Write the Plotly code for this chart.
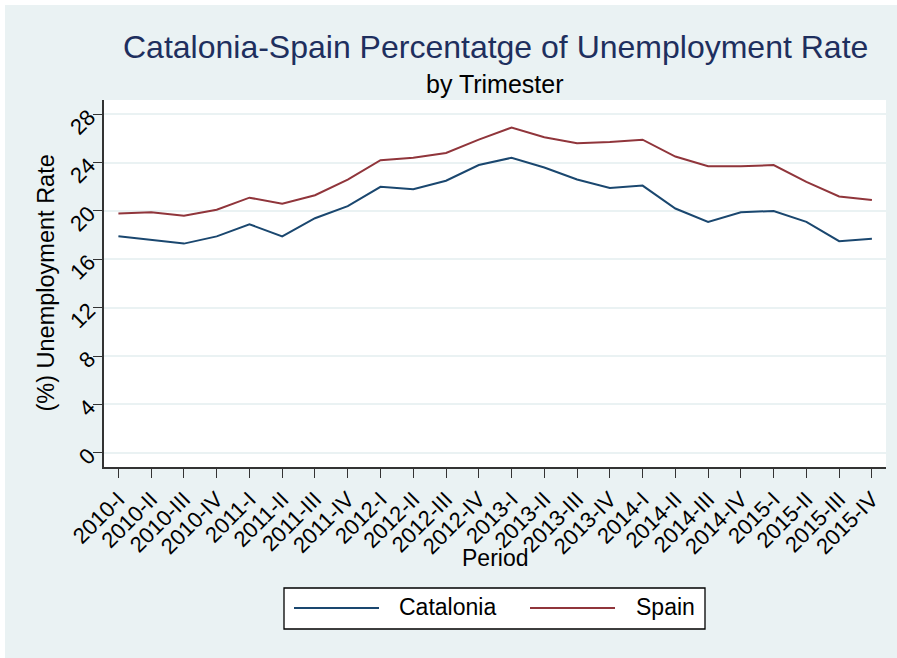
import plotly.graph_objects as go

periods = ["2010-I", "2010-II", "2010-III", "2010-IV",
           "2011-I", "2011-II", "2011-III", "2011-IV",
           "2012-I", "2012-II", "2012-III", "2012-IV",
           "2013-I", "2013-II", "2013-III", "2013-IV",
           "2014-I", "2014-II", "2014-III", "2014-IV",
           "2015-I", "2015-II", "2015-III", "2015-IV"]

catalonia = [17.9, 17.6, 17.3, 17.9, 18.9, 17.9, 19.4, 20.4,
             22.0, 21.8, 22.5, 23.8, 24.4, 23.6, 22.6, 21.9,
             22.1, 20.2, 19.1, 19.9, 20.0, 19.1, 17.5, 17.7]

spain = [19.8, 19.9, 19.6, 20.1, 21.1, 20.6, 21.3, 22.6,
         24.2, 24.4, 24.8, 25.9, 26.9, 26.1, 25.6, 25.7,
         25.9, 24.5, 23.7, 23.7, 23.8, 22.4, 21.2, 20.9]

y_ticks = [0, 4, 8, 12, 16, 20, 24, 28]

W, H = 897, 658
L, R, T, B = 104, 886, 100, 467   # plot-area pixel box

def px(x):
    return (x - L) / (R - L)

def py(y):
    return (B - y) / (B - T)

NAVY = "#1a476f"
MAROON = "#90353b"
BG = "#eaf2f3"
FONT = "Liberation Sans, Arial, sans-serif"

fig = go.Figure()
fig.add_trace(go.Scatter(x=periods, y=catalonia, mode="lines", name="Catalonia",
                         line=dict(color=NAVY, width=2), showlegend=False))
fig.add_trace(go.Scatter(x=periods, y=spain, mode="lines", name="Spain",
                         line=dict(color=MAROON, width=2), showlegend=False))

fig.update_layout(
    width=W, height=H,
    margin=dict(l=L, r=W - R, t=T, b=H - B, pad=0),
    paper_bgcolor=BG,
    plot_bgcolor="white",
    font=dict(family=FONT, color="black", size=22),
    showlegend=False,
)

fig.update_xaxes(
    type="category", range=[-0.44, 23.43],
    showgrid=False, zeroline=False,
    showline=True, linecolor="#333333", linewidth=1.5,
    ticks="outside", ticklen=9, tickwidth=1.3, tickcolor="#333333",
    tickangle=-45, tickfont=dict(size=22, color="black"),
)
fig.update_yaxes(
    range=[-1.18, 29.18],
    tickvals=y_ticks, ticktext=[str(v) for v in y_ticks],
    showgrid=True, gridcolor=BG, gridwidth=1.5, zeroline=False,
    showline=True, linecolor="#333333", linewidth=1.5,
    ticks="outside", ticklen=9, tickwidth=1.3, tickcolor="#333333",
    tickangle=-45, tickfont=dict(size=22, color="black"),
)

ann = []
# titles
ann.append(dict(text="Catalonia-Spain Percentatge of Unemployment Rate",
                x=0.5, y=py(47), xref="paper", yref="paper",
                xanchor="center", yanchor="middle", showarrow=False,
                font=dict(size=32, color="#1e2f5e", family=FONT)))
ann.append(dict(text="by Trimester",
                x=0.5, y=py(84), xref="paper", yref="paper",
                xanchor="center", yanchor="middle", showarrow=False,
                font=dict(size=25, color="black", family=FONT)))
# axis titles
ann.append(dict(text="Period", x=0.5, y=py(558), xref="paper", yref="paper",
                xanchor="center", yanchor="middle", showarrow=False,
                font=dict(size=23, color="black", family=FONT)))
ann.append(dict(text="(%) Unemployment Rate", x=px(45), y=0.5, xref="paper", yref="paper",
                xanchor="center", yanchor="middle", showarrow=False, textangle=-90,
                font=dict(size=23.5, color="black", family=FONT)))
# legend text
ann.append(dict(text="Catalonia", x=px(397), y=py(607), xref="paper", yref="paper",
                xanchor="left", yanchor="middle", showarrow=False,
                font=dict(size=23, color="black", family=FONT)))
ann.append(dict(text="Spain", x=px(634), y=py(607), xref="paper", yref="paper",
                xanchor="left", yanchor="middle", showarrow=False,
                font=dict(size=23, color="black", family=FONT)))

shapes = []
# legend box
shapes.append(dict(type="rect", xref="paper", yref="paper",
                   x0=px(284), x1=px(705), y0=py(629), y1=py(588),
                   fillcolor="white", line=dict(color="black", width=1.3), layer="above"))
shapes.append(dict(type="line", xref="paper", yref="paper",
                   x0=px(294), x1=px(379), y0=py(608), y1=py(608),
                   line=dict(color=NAVY, width=2)))
shapes.append(dict(type="line", xref="paper", yref="paper",
                   x0=px(530), x1=px(615), y0=py(608), y1=py(608),
                   line=dict(color=MAROON, width=2)))
# thin white strips at top and left edges
shapes.append(dict(type="rect", xref="paper", yref="paper",
                   x0=px(0), x1=px(W), y0=py(5), y1=py(0),
                   fillcolor="white", line=dict(width=0), layer="above"))
shapes.append(dict(type="rect", xref="paper", yref="paper",
                   x0=px(0), x1=px(5), y0=py(H), y1=py(0),
                   fillcolor="white", line=dict(width=0), layer="above"))

fig.update_layout(annotations=ann, shapes=shapes)

fig.write_html("out.html",
               config={"displayModeBar": False},
               post_script="document.body.style.margin='0';document.body.style.overflow='hidden';")
